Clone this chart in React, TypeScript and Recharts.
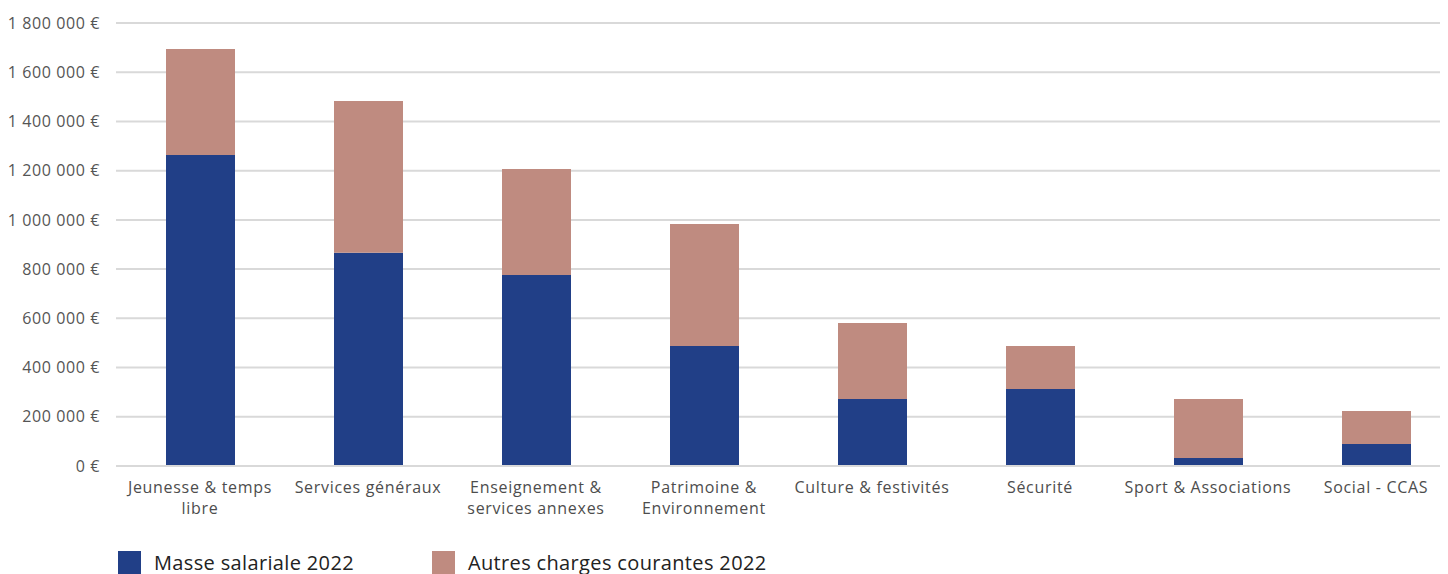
import { Bar, BarChart, CartesianGrid, Legend, XAxis, YAxis } from "recharts";

const categories = [
	"Jeunesse & temps\nlibre",
	"Services généraux",
	"Enseignement &\nservices annexes",
	"Patrimoine &\nEnvironnement",
	"Culture & festivités",
	"Sécurité",
	"Sport & Associations",
	"Social - CCAS",
];
const masseSalariale = [1264000, 866000, 776000, 488000, 272000, 313000, 32000, 89000];
const autresCharges = [430000, 617000, 431000, 495000, 309000, 175000, 240000, 134000];
const yTicks = [0, 200000, 400000, 600000, 800000, 1000000, 1200000, 1400000, 1600000, 1800000];

const NAVY = "#213f87";
const ROSE = "#bf8b80";
const FONT = "'Open Sans', 'DejaVu Sans', sans-serif";

const data = categories.map((name, i) => ({
	name,
	masse: masseSalariale[i],
	autres: autresCharges[i],
}));

const formatEuro = (v: number) =>
	`${String(v).replace(/\B(?=(\d{3})+(?!\d))/g, " ")} €`;

// libellés sur une ou deux lignes
function CategoryTick({ x, y, payload }: any) {
	const lines = String(payload.value).split("\n");
	return (
		<g>
			{lines.map((line, i) => (
				<text
					key={i}
					x={x}
					y={y + 19 + i * 21}
					textAnchor="middle"
					fill="#4d4d4d"
					fontSize={16}
					letterSpacing={0.7}
					fontFamily={FONT}
				>
					{line}
				</text>
			))}
		</g>
	);
}

function LegendContent() {
	const items = [
		{ label: "Masse salariale 2022", color: NAVY },
		{ label: "Autres charges courantes 2022", color: ROSE },
	];
	return (
		<div style={{ display: "flex", alignItems: "center", fontFamily: FONT, height: 24 }}>
			{items.map((it, i) => (
				<div
					key={it.label}
					style={{ display: "flex", alignItems: "center", marginLeft: i === 0 ? 110 : 78 }}
				>
					<span
						style={{
							width: 23,
							height: 23,
							background: it.color,
							display: "inline-block",
							marginRight: 13,
						}}
					/>
					<span style={{ fontSize: 20, letterSpacing: 0.35, color: "#222" }}>{it.label}</span>
				</div>
			))}
		</div>
	);
}

export default function App() {
	return (
		<div style={{ width: 1440, height: 566, overflow: "hidden", position: "relative" }}>
			<BarChart
				width={1452}
				height={566}
				data={data}
				margin={{ top: 15, right: 0, left: 0, bottom: 0 }}
			>
				<CartesianGrid vertical={false} stroke="#d9d9d9" strokeWidth={2} />
				<XAxis
					dataKey="name"
					axisLine={{ stroke: "#d9d9d9", strokeWidth: 2 }}
					tickLine={false}
					height={84}
					interval={0}
					tick={<CategoryTick />}
				/>
				<YAxis
					width={108}
					domain={[0, 1800000]}
					ticks={yTicks}
					axisLine={false}
					tickLine={false}
					tickMargin={10}
					tickFormatter={formatEuro}
					tick={{ fill: "#555", fontSize: 16, letterSpacing: 0.6, fontFamily: FONT }}
				/>
				<Legend verticalAlign="bottom" align="left" content={<LegendContent />} />
				<Bar dataKey="masse" stackId="a" fill={NAVY} barSize={69} isAnimationActive={false} />
				<Bar dataKey="autres" stackId="a" fill={ROSE} barSize={69} isAnimationActive={false} />
			</BarChart>
		</div>
	);
}
